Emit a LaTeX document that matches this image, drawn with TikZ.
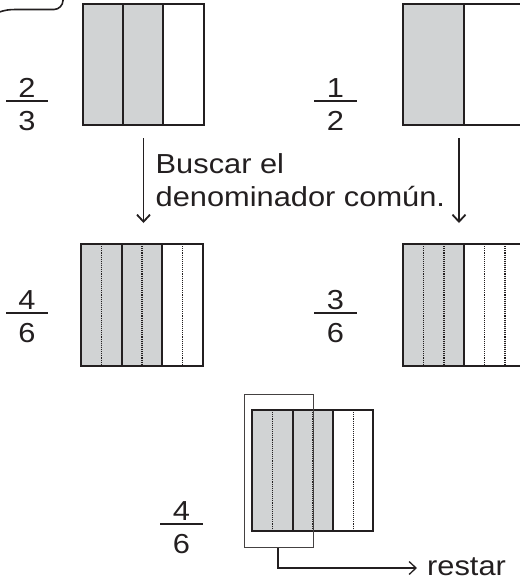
\documentclass[tikz,border=0pt]{standalone}
\usepackage{fontspec}
\setmainfont{Liberation Sans}
\usetikzlibrary{arrows.meta}
\definecolor{ink}{HTML}{231F20}
\definecolor{greyfill}{HTML}{D1D3D4}
\newcommand{\wide}[1]{\scalebox{1.12}[1]{#1}}
\tikzset{
  txt/.style={font=\fontsize{27.5}{33}\selectfont, text=ink, inner sep=0pt},
  frame/.style={draw=ink, line width=1.8pt},
  part/.style={draw=ink, line width=1.5pt},
  dotline/.style={draw=ink, line width=1.1pt, dash pattern=on 1.1pt off 1pt},
  fbar/.style={draw=ink, line width=2.2pt},
  thinbox/.style={draw=ink!85, line width=1.2pt},
  arr/.style={draw=ink, line width=1.8pt, -{Straight Barb[length=7pt,width=13pt,line width=1.8pt]}},
}
\begin{document}
\begin{tikzpicture}[x=1pt,y=-1pt]
\useasboundingbox (0,0) rectangle (520,582);
\clip (0,0) rectangle (520,582);

% partial callout at top left
\draw[ink, line width=1.6pt] (-2,12.5) .. controls (5,10) and (9,9.5) .. (16,9.5) -- (54,9.5)
   .. controls (59,9.5) and (63,5) .. (63,0.5) -- (63,-5);

% ---- row 1 ----
\fill[greyfill] (83,4) rectangle (163,125);
\draw[part] (123,4) -- (123,125) (163,4) -- (163,125);
\draw[frame] (83,4) rectangle (204,125);

\fill[greyfill] (403,4) rectangle (464,125);
\draw[part] (464,4) -- (464,125);
\draw[frame] (403,4) rectangle (525,125);

% fractions row 1
\node[txt, anchor=base] (n1) at (27,97) {\wide{2}};
\draw[fbar] (6,101) -- (48,101);
\node[txt, anchor=base] (d1) at (27,130) {\wide{3}};

\node[txt, anchor=base] (n2) at (335.5,97) {\wide{1}};
\draw[fbar] (314,101) -- (357,101);
\node[txt, anchor=base] (d2) at (335.5,130) {\wide{2}};

% arrows and text
\coordinate (a1s) at (143.5,138);
\coordinate (a1e) at (143.5,223);
\coordinate (a2s) at (459,138);
\coordinate (a2e) at (459,223);
\draw[arr] (a1s) -- (a1e);
\draw[arr] (a2s) -- (a2e);
\node[txt, anchor=base west] (t1) at (155.5,173) {\wide{Buscar el}};
\node[txt, anchor=base west] (t2) at (155.5,206) {\wide{denominador común.}};

% ---- row 2 ----
\fill[greyfill] (81,244) rectangle (162,366);
\draw[dotline] (101.5,244) -- (101.5,366) (142,244) -- (142,366) (182.5,244) -- (182.5,366);
\draw[part] (122,244) -- (122,366) (162,244) -- (162,366);
\draw[frame] (81,244) rectangle (203,366);

\fill[greyfill] (403,244) rectangle (464,366);
\draw[dotline] (423.5,244) -- (423.5,366) (444,244) -- (444,366) (484.5,244) -- (484.5,366) (505,244) -- (505,366);
\draw[part] (464,244) -- (464,366);
\draw[frame] (403,244) rectangle (525,366);

\node[txt, anchor=base] (n3) at (27,309) {\wide{4}};
\draw[fbar] (6,313) -- (48,313);
\node[txt, anchor=base] (d3) at (27,342) {\wide{6}};

\node[txt, anchor=base] (n4) at (335.5,309) {\wide{3}};
\draw[fbar] (314,313) -- (357,313);
\node[txt, anchor=base] (d4) at (335.5,342) {\wide{6}};

% ---- row 3 ----
\fill[greyfill] (252,410) rectangle (333,531);
\draw[dotline] (272.5,410) -- (272.5,531) (313,410) -- (313,531) (353.5,410) -- (353.5,531);
\draw[part] (293,410) -- (293,531) (333,410) -- (333,531);
\draw[frame] (252,410) rectangle (373,531);

\node[thinbox, minimum width=69pt, minimum height=153pt, inner sep=0pt, anchor=north west] (sel) at (244,394) {};

\node[txt, anchor=base] (n5) at (181.5,520) {\wide{4}};
\draw[fbar] (160,524) -- (203,524);
\node[txt, anchor=base] (d5) at (181.5,553) {\wide{6}};

\node[txt, anchor=base west] (rest) at (427,575) {\wide{restar}};
\coordinate (tip) at (417,568);
\draw[ink, line width=1.3pt, -{Straight Barb[length=7pt,width=13pt,line width=1.3pt]}]
  (sel.south -| 278,0) |- (tip);
\end{tikzpicture}
\end{document}
